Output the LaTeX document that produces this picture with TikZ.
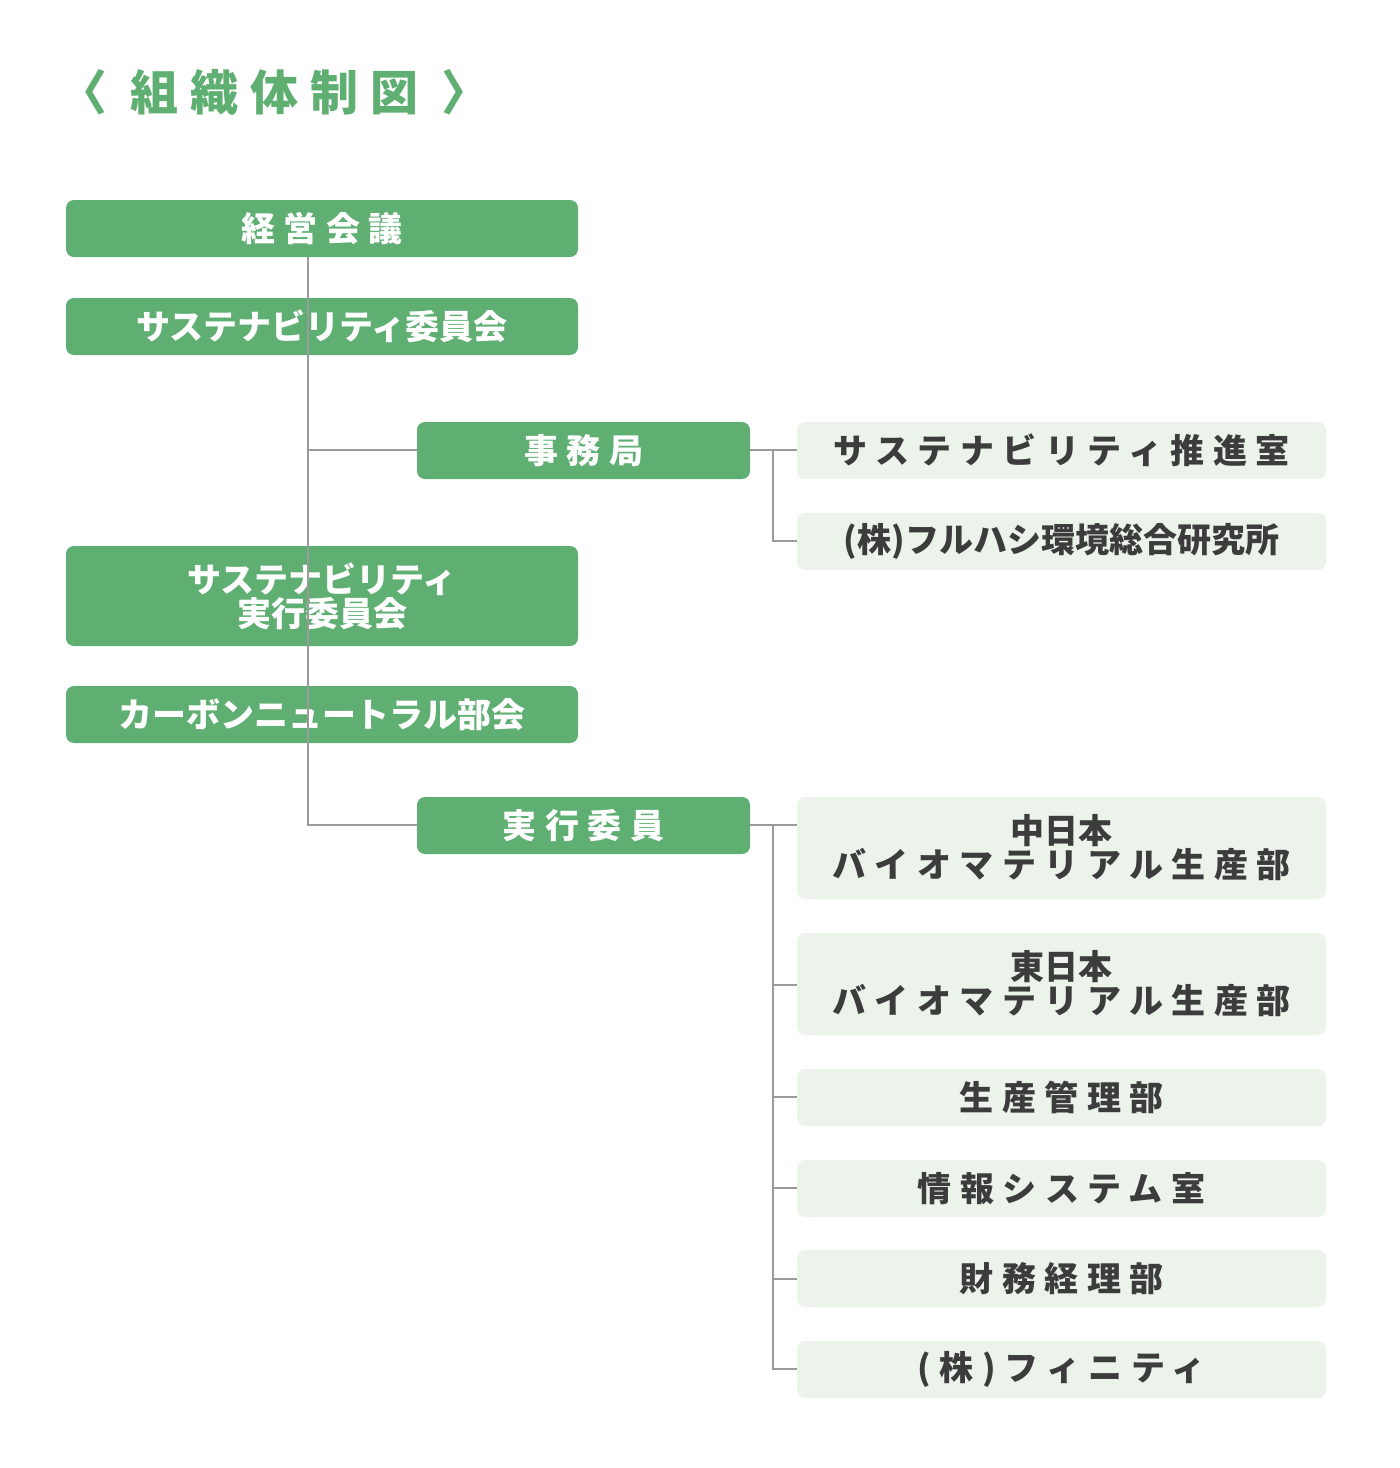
\documentclass[tikz,border=0pt]{standalone}
\usepackage{fontspec}
\newfontfamily\cjk{Noto Sans CJK JP}
\newfontfamily\cjksp[LetterSpace=25]{Noto Sans CJK JP}
\definecolor{dg}{HTML}{5FAF73}
\definecolor{lg}{HTML}{EBF3EB}
\definecolor{tx}{HTML}{3C3C3C}
\definecolor{ln}{HTML}{9A9A9A}
\begin{document}
\begin{tikzpicture}[x=0.5pt,y=-0.5pt,
 dk/.style={fill=dg,rounded corners=4pt,text=white,font=\cjk\bfseries\fontsize{17}{19}\selectfont,align=center},
 lt/.style={fill=lg,rounded corners=4pt,text=tx,font=\cjk\bfseries\fontsize{17}{19}\selectfont,align=center},
 ln/.style={draw=ln,line width=0.7pt}]
\useasboundingbox (0,0) rectangle (1400,1468);
\node[text=dg,font=\cjksp\bfseries\fontsize{24}{26}\selectfont,anchor=west] (title) at (52,92) {〈 組織体制図 〉};
\newcommand\bx[7]{\path[#1] (#2,#3) rectangle (#4,#5); \node[#1,fill=none] (#6) at ({(#2+#4)/2},{(#3+#5)/2}) {#7};}
\bx{dk}{66}{200}{578}{257}{a}{\cjksp\bfseries 経営会議}
\bx{dk}{66}{298}{578}{355}{b}{サステナビリティ委員会}
\bx{dk}{417}{422}{750}{479}{c}{\cjksp\bfseries 事務局}
\bx{lt}{797}{422}{1326}{479}{d}{\cjksp\bfseries サステナビリティ推進室}
\bx{lt}{797}{513}{1326}{570}{e}{(株)フルハシ環境総合研究所}
\bx{dk}{66}{546}{578}{646}{f}{サステナビリティ\\[-2pt]実行委員会}
\bx{dk}{66}{686}{578}{743}{g}{カーボンニュートラル部会}
\bx{dk}{417}{797}{750}{854}{h}{\cjksp\bfseries 実行委員}
\bx{lt}{797}{797}{1326}{899}{i}{中日本\\[-2pt]{\cjksp\bfseries バイオマテリアル生産部}}
\bx{lt}{797}{933}{1326}{1035}{j}{東日本\\[-2pt]{\cjksp\bfseries バイオマテリアル生産部}}
\bx{lt}{797}{1069}{1326}{1126}{k}{\cjksp\bfseries 生産管理部}
\bx{lt}{797}{1160}{1326}{1217}{l}{\cjksp\bfseries 情報システム室}
\bx{lt}{797}{1250}{1326}{1307}{m}{\cjksp\bfseries 財務経理部}
\bx{lt}{797}{1341}{1326}{1398}{n}{\cjksp\bfseries (株)フィニティ}
\coordinate (v1) at (308,257);
\coordinate (v2) at (308,825);
\draw[ln] (v1) -- (v2) -- (417,825);
\draw[ln] (308,450) -- (417,450);
\draw[ln] (750,450) -- (797,450);
\draw[ln] (773,450) -- (773,541) -- (797,541);
\draw[ln] (750,825) -- (797,825);
\draw[ln] (773,825) -- (773,1369) -- (797,1369);
\foreach \y in {985,1097,1188,1279} \draw[ln] (773,\y) -- (797,\y);
\end{tikzpicture}
\end{document}
